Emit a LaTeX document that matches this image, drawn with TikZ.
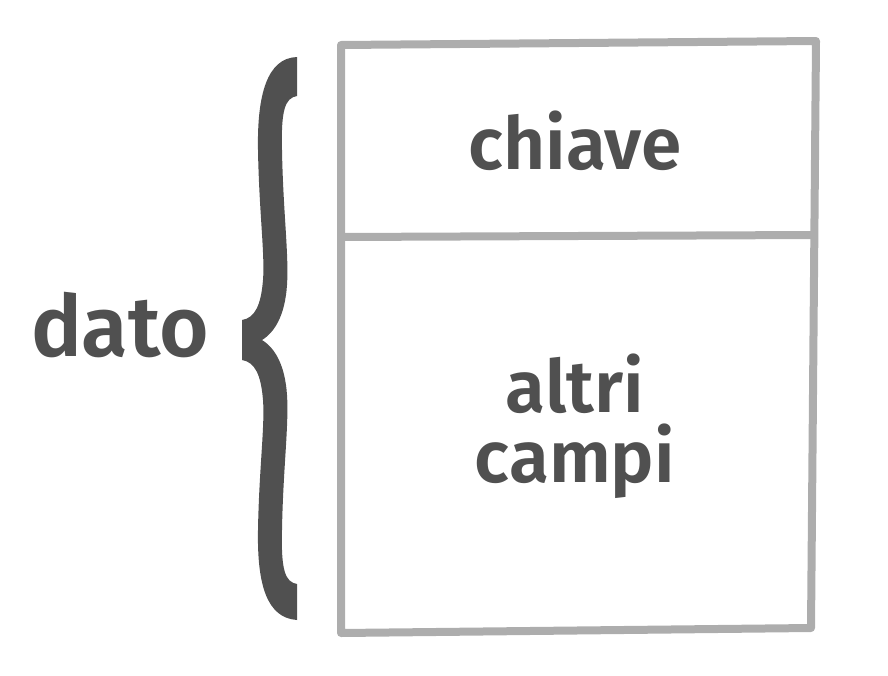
\documentclass[tikz,border=0pt]{standalone}
\usepackage{fontspec}
\setmainfont{Fira Sans}[UprightFont = * SemiBold]
\usetikzlibrary{positioning}
\definecolor{testo}{HTML}{505050}
\definecolor{bordo}{HTML}{ADADAD}

\begin{document}
\begin{tikzpicture}[
	x = 1pt, y = -1pt,
	cella/.style = {draw = bordo, line width = 8pt, line join = round, line cap = round},
	etichetta/.style = {text = testo, inner sep = 0pt, align = center, font = \fontsize{73}{70}\selectfont},
	graffa/.style = {fill = testo}
	]
	
	\useasboundingbox (0, 0) rectangle (888, 675);
	
	% angoli del record
	\coordinate (no) at (341, 45);
	\coordinate (ne) at (816, 41);
	\coordinate (se) at (811, 628);
	\coordinate (so) at (341, 633);
	\coordinate (mo) at (341, 237);
	\coordinate (me) at (813, 235);
	
	\draw[cella] (no) -- (ne) -- (se) -- (so) -- cycle;
	\draw[cella] (mo) -- (me);
	
	\node[etichetta, anchor = base] (chiave) at (575, 169) {chiave};
	\node[etichetta, below = 185pt of chiave.base, anchor = north] (campi) {altri\\campi};
	
	% graffa a sinistra
	\fill[graffa] (297, 57) .. controls (267, 58) and (257, 95) .. (258, 150)
		.. controls (259, 210) and (265, 255) .. (263, 280)
		.. controls (261, 305) and (255, 318) .. (242, 320)
		-- (242, 360)
		.. controls (255, 362) and (261, 375) .. (263, 400)
		.. controls (265, 425) and (259, 470) .. (258, 530)
		.. controls (257, 585) and (267, 618) .. (297, 620)
		-- (297, 584)
		.. controls (285, 582) and (281, 570) .. (282, 530)
		.. controls (283, 470) and (289, 425) .. (287, 395)
		.. controls (285, 365) and (275, 348) .. (262, 340)
		.. controls (275, 332) and (285, 315) .. (287, 285)
		.. controls (289, 255) and (283, 210) .. (282, 150)
		.. controls (281, 110) and (285, 98) .. (297, 96)
		-- cycle;
	
	\node[etichetta, font = \fontsize{85}{88}\selectfont, anchor = base] (dato) at (120, 356) {dato};

\end{tikzpicture}
\end{document}
